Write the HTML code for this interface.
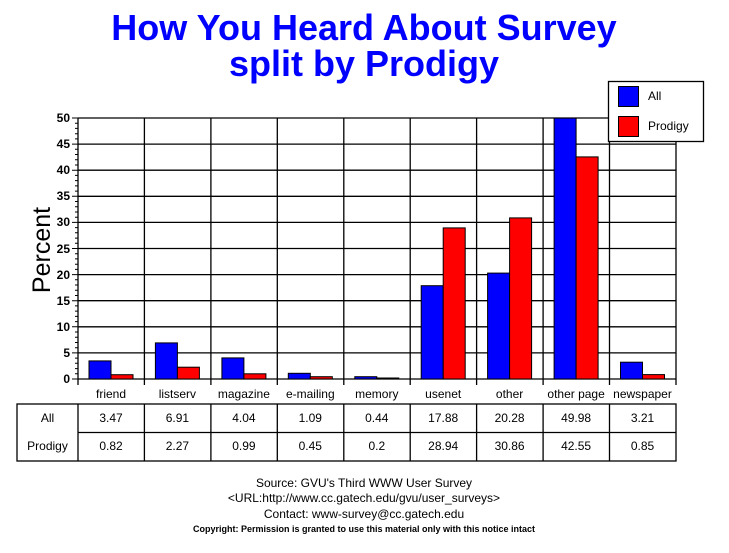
<!DOCTYPE html>
<html><head><meta charset="utf-8"><style>
body{margin:0;background:#fff}
svg{display:block}
text{font-family:"Liberation Sans",Arial,sans-serif}
</style></head><body>
<svg width="729" height="553" viewBox="0 0 729 553" xmlns="http://www.w3.org/2000/svg">
<rect width="729" height="553" fill="#fff"/>
<g fill="#0000ff" font-weight="bold" font-size="36" text-anchor="middle">
<text x="364" y="40">How You Heard About Survey</text>
<text x="364" y="76">split by Prodigy</text>
</g>
<g stroke="#000" stroke-width="1.3">
<line x1="78" y1="118" x2="676" y2="118"/>
<line x1="78" y1="144.1" x2="676" y2="144.1"/>
<line x1="78" y1="170.2" x2="676" y2="170.2"/>
<line x1="78" y1="196.3" x2="676" y2="196.3"/>
<line x1="78" y1="222.4" x2="676" y2="222.4"/>
<line x1="78" y1="248.5" x2="676" y2="248.5"/>
<line x1="78" y1="274.6" x2="676" y2="274.6"/>
<line x1="78" y1="300.7" x2="676" y2="300.7"/>
<line x1="78" y1="326.8" x2="676" y2="326.8"/>
<line x1="78" y1="352.9" x2="676" y2="352.9"/>
<line x1="78" y1="379" x2="676" y2="379"/>
<line x1="78" y1="118" x2="78" y2="385"/>
<line x1="144.4" y1="118" x2="144.4" y2="385"/>
<line x1="210.9" y1="118" x2="210.9" y2="385"/>
<line x1="277.3" y1="118" x2="277.3" y2="385"/>
<line x1="343.8" y1="118" x2="343.8" y2="385"/>
<line x1="410.2" y1="118" x2="410.2" y2="385"/>
<line x1="476.6" y1="118" x2="476.6" y2="385"/>
<line x1="543.1" y1="118" x2="543.1" y2="385"/>
<line x1="609.5" y1="118" x2="609.5" y2="385"/>
<line x1="676" y1="118" x2="676" y2="385"/>
</g>
<g stroke="#000" stroke-width="1">
<path d="M72 118H78M72 144.1H78M72 170.2H78M72 196.3H78M72 222.4H78M72 248.5H78M72 274.6H78M72 300.7H78M72 326.8H78M72 352.9H78M72 379H78"/>
<path d="M75 123.2H78M75 128.4H78M75 133.7H78M75 138.9H78M75 149.3H78M75 154.5H78M75 159.8H78M75 165H78M75 175.4H78M75 180.6H78M75 185.9H78M75 191.1H78M75 201.5H78M75 206.7H78M75 212H78M75 217.2H78M75 227.6H78M75 232.8H78M75 238.1H78M75 243.3H78M75 253.7H78M75 258.9H78M75 264.2H78M75 269.4H78M75 279.8H78M75 285H78M75 290.3H78M75 295.5H78M75 305.9H78M75 311.1H78M75 316.4H78M75 321.6H78M75 332H78M75 337.2H78M75 342.5H78M75 347.7H78M75 358.1H78M75 363.3H78M75 368.6H78M75 373.8H78"/>
</g>
<g font-size="12" font-weight="bold" text-anchor="end">
<text x="70" y="122">50</text><text x="70" y="148">45</text><text x="70" y="174">40</text><text x="70" y="200">35</text><text x="70" y="226">30</text><text x="70" y="253">25</text><text x="70" y="279">20</text><text x="70" y="305">15</text><text x="70" y="331">10</text><text x="70" y="357">5</text><text x="70" y="383">0</text>
</g>
<text transform="translate(50,250) rotate(-90)" font-size="25" text-anchor="middle">Percent</text>
<g stroke="#000" stroke-width="1">
<rect x="89" y="360.9" width="22" height="18.1" fill="#0000ff"/><rect x="111" y="374.7" width="22" height="4.3" fill="#ff0000"/>
<rect x="155.4" y="342.9" width="22" height="36.1" fill="#0000ff"/><rect x="177.4" y="367.2" width="22" height="11.8" fill="#ff0000"/>
<rect x="221.9" y="357.9" width="22" height="21.1" fill="#0000ff"/><rect x="243.9" y="373.8" width="22" height="5.2" fill="#ff0000"/>
<rect x="288.3" y="373.3" width="22" height="5.7" fill="#0000ff"/><rect x="310.3" y="376.7" width="22" height="2.3" fill="#ff0000"/>
<rect x="354.8" y="376.7" width="22" height="2.3" fill="#0000ff"/><rect x="376.8" y="378" width="22" height="1" fill="#ff0000"/>
<rect x="421.2" y="285.7" width="22" height="93.3" fill="#0000ff"/><rect x="443.2" y="227.9" width="22" height="151.1" fill="#ff0000"/>
<rect x="487.6" y="273.1" width="22" height="105.9" fill="#0000ff"/><rect x="509.6" y="217.9" width="22" height="161.1" fill="#ff0000"/>
<rect x="554.1" y="118.1" width="22" height="260.9" fill="#0000ff"/><rect x="576.1" y="156.9" width="22" height="222.1" fill="#ff0000"/>
<rect x="620.5" y="362.2" width="22" height="16.8" fill="#0000ff"/><rect x="642.5" y="374.6" width="22" height="4.4" fill="#ff0000"/>
</g>
<g font-size="12" text-anchor="middle">
<text x="111" y="398">friend</text><text x="177.4" y="398">listserv</text><text x="243.9" y="398">magazine</text><text x="310.3" y="398">e-mailing</text><text x="376.8" y="398">memory</text><text x="443.2" y="398">usenet</text><text x="509.6" y="398">other</text><text x="576.1" y="398">other page</text><text x="642.5" y="398">newspaper</text>
</g>
<g stroke="#000" stroke-width="1.3" fill="none">
<rect x="17" y="404" width="659" height="57"/>
<line x1="78" y1="432.5" x2="676" y2="432.5"/>
<path d="M78 404V461M144.4 404V461M210.9 404V461M277.3 404V461M343.8 404V461M410.2 404V461M476.6 404V461M543.1 404V461M609.5 404V461"/>
</g>
<g font-size="12" text-anchor="middle">
<text x="47.5" y="422">All</text><text x="47.5" y="450">Prodigy</text>
<text x="111" y="422">3.47</text><text x="177.4" y="422">6.91</text><text x="243.9" y="422">4.04</text><text x="310.3" y="422">1.09</text><text x="376.8" y="422">0.44</text><text x="443.2" y="422">17.88</text><text x="509.6" y="422">20.28</text><text x="576.1" y="422">49.98</text><text x="642.5" y="422">3.21</text>
<text x="111" y="450">0.82</text><text x="177.4" y="450">2.27</text><text x="243.9" y="450">0.99</text><text x="310.3" y="450">0.45</text><text x="376.8" y="450">0.2</text><text x="443.2" y="450">28.94</text><text x="509.6" y="450">30.86</text><text x="576.1" y="450">42.55</text><text x="642.5" y="450">0.85</text>
</g>
<rect x="608.5" y="81.5" width="95" height="60" fill="#fff" stroke="#000" stroke-width="1.3"/>
<rect x="618.5" y="86.5" width="20" height="20" fill="#0000ff" stroke="#000"/>
<rect x="618.5" y="116.5" width="20" height="20" fill="#ff0000" stroke="#000"/>
<text x="648" y="100" font-size="12">All</text>
<text x="648" y="130" font-size="12">Prodigy</text>
<g font-size="12" text-anchor="middle">
<text x="364" y="487">Source: GVU's Third WWW User Survey</text>
<text x="364" y="502">&lt;URL:http://www.cc.gatech.edu/gvu/user_surveys&gt;</text>
<text x="364" y="518">Contact: www-survey@cc.gatech.edu</text>
<text x="364" y="532" font-size="9" font-weight="bold">Copyright: Permission is granted to use this material only with this notice intact</text>
</g>
</svg>
</body></html>
